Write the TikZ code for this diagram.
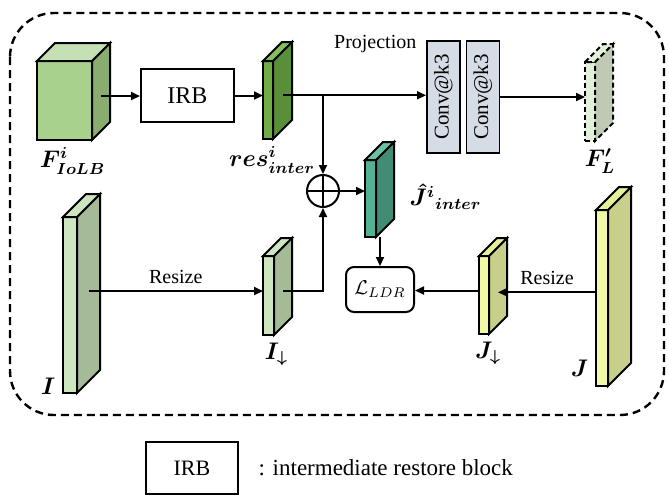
\documentclass[tikz,border=0pt]{standalone}
\usepackage{fontspec}
\setmainfont{Liberation Serif}
\usepackage{amsmath}
\usepackage{graphicx}
\usetikzlibrary{positioning,arrows.meta,calc}

\definecolor{leaffront}{HTML}{A9D18E}
\definecolor{leafside}{HTML}{88AD6F}
\definecolor{leaftop}{HTML}{C5E0B4}
\definecolor{grassfront}{HTML}{70AD47}
\definecolor{grassside}{HTML}{5A8F3A}
\definecolor{grasstop}{HTML}{86BE5E}
\definecolor{ghostfront}{HTML}{E2F0D9}
\definecolor{ghostside}{HTML}{BFCAB4}
\definecolor{tealfront}{HTML}{52B093}
\definecolor{tealside}{HTML}{418C74}
\definecolor{tealtop}{HTML}{6BC1A5}
\definecolor{mintfront}{HTML}{CDE6C0}
\definecolor{mintside}{HTML}{A5BA97}
\definecolor{lemonfront}{HTML}{F1F8A6}
\definecolor{lemonside}{HTML}{C8CF8A}
\definecolor{lemontop}{HTML}{E6EF9A}
\definecolor{convfill}{HTML}{D6DCE5}

% feature slab: name, x, y, width, height, depth, kind
\newcommand{\slab}[7]{%
  \node[slabface, #7 front, minimum width=#4*0.5pt, minimum height=#5*0.5pt,
        anchor=north west] (#1) at (#2,#3) {};
  \draw[slabedge, #7 side] (#1.north east) -- ++(#6,-#6) -- ++(0,#5) -- (#1.south east) -- cycle;
  \draw[slabedge, #7 top] (#1.north west) -- ++(#6,-#6) -- ++(#4,0) -- (#1.north east) -- cycle;
  \coordinate (#1c) at ($(#1.east)+(#6/2,-#6/4)$);
}

\begin{document}
\begin{tikzpicture}[
    x=0.5pt, y=-0.5pt,
    >={Triangle[length=4.5pt,width=4pt]},
    every path/.style={line width=1pt},
    slabface/.style={draw, line width=1pt, inner sep=0pt, outer sep=0pt},
    slabedge/.style={draw, line width=1pt},
    leaf front/.style={fill=leaffront}, leaf side/.style={fill=leafside}, leaf top/.style={fill=leaftop},
    grass front/.style={fill=grassfront}, grass side/.style={fill=grassside}, grass top/.style={fill=grasstop},
    ghost front/.style={fill=ghostfront, dash pattern=on 2.5pt off 1.5pt},
    ghost side/.style={fill=ghostside, dash pattern=on 2.5pt off 1.5pt},
    ghost top/.style={fill=ghostfront, dash pattern=on 2.5pt off 1.5pt},
    teal front/.style={fill=tealfront}, teal side/.style={fill=tealside}, teal top/.style={fill=tealtop},
    mint front/.style={fill=mintfront}, mint side/.style={fill=mintside}, mint top/.style={fill=mintfront},
    lemon front/.style={fill=lemonfront}, lemon side/.style={fill=lemonside}, lemon top/.style={fill=lemontop},
    block/.style={draw, line width=1pt, minimum width=46.5pt, minimum height=26.5pt, font=\large},
    conv/.style={draw, line width=0.8pt, fill=convfill, minimum width=16.5pt, minimum height=56pt,
                 inner sep=0pt, font=\fontsize{10.5}{11}\selectfont},
    sum/.style={circle, draw, line width=1pt, minimum size=16pt, inner sep=0pt},
    loss/.style={draw, line width=1pt, rounded corners=4pt, minimum width=34pt, minimum height=22.5pt},
    mlbl/.style={font=\large\boldmath},
    frame/.style={line width=1.2pt, dash pattern=on 4pt off 2.5pt, rounded corners=22pt}
]
\useasboundingbox (0,0) rectangle (669,495);

% --- frame ---
\draw[frame] (10,13) rectangle (664,415);

% --- top row ---
\slab{F}{37}{61}{55}{79}{18}{leaf}
\node[block, right=24pt of F, yshift=2.5pt] (irb) {IRB};
\slab{res}{263}{61}{10}{78}{19}{grass}
\node[conv, anchor=west] (conv1) at (426,97) {\rotatebox{90}{Conv@k3}};
\node[conv, right=2.5pt of conv1] (conv2) {\rotatebox{90}{Conv@k3}};
\node[anchor=east] (proj) at ([xshift=-1pt, yshift=-2pt]conv1.north west) {Projection};
\slab{FL}{585}{62}{10}{79}{18}{ghost}

\draw[->] (Fc) -- (Fc -| irb.west);
\draw[->] (irb.east) -- (irb.east -| res.west);
\draw[->] (resc) -- (resc -| conv1.west);
\draw[->] (conv2.east) -- (conv2.east -| FL.west);

\node[mlbl, below=0pt of F, xshift=4pt] (Flbl) {$F^{i}_{IoLB}$};
\node[mlbl, below=0pt of res, xshift=2pt] (reslbl) {$res^{i}_{inter}$};
\node[mlbl, below=0pt of FL, xshift=5pt] (FLlbl) {$F^{\prime}_{L}$};

% --- fusion ---
\node[sum] (add) at (323,191) {};
\draw (add.north) -- (add.south) (add.west) -- (add.east);
\slab{Jhat}{365}{160}{11}{77}{18}{teal}
\node[loss] (ldr) at (380,289.5) {$\mathcal{L}_{LDR}$};
\node[mlbl, right=13pt of Jhat, yshift=1pt] (Jhatlbl) {$\hat{J}^{i}{}_{inter}$};

\draw[->] (resc -| add) -- (add.north);
\draw[->] (add.east) -- (add.east -| Jhat.west);
\draw[->] (ldr.north |- Jhat.south) -- (ldr.north);

% --- bottom row ---
\slab{I}{63}{217}{14}{176}{23}{mint}
\slab{Idown}{263}{256}{11}{79}{18}{mint}
\slab{Jdown}{479}{256}{10}{78}{18}{lemon}
\slab{J}{596}{210}{12}{176}{23}{lemon}

\draw[->] (Ic |- Idownc) -- node[above] {Resize} (Idownc -| Idown.west);
\draw[->] (Idownc) -| (add.south);
\draw[->] (Jc -| J.west) -- node[above] {Resize} (Jc -| Jdownc);
\draw[->] (Jdownc -| Jdown.west) -- (Jdownc -| ldr.east);

\node[mlbl, below=0pt of Idown, xshift=4pt] (Idownlbl) {$I_{\downarrow}$};
\node[mlbl, below=0pt of Jdown, xshift=2pt] (Jdownlbl) {$J_{\downarrow}$};
\node[mlbl, anchor=east] (Ilbl) at ([yshift=3.5pt]I.south west) {$I$};
\node[mlbl, anchor=east] (Jlbl) at ([yshift=9pt]J.south west) {$J$};

% --- legend ---
\node[block, minimum width=46pt, minimum height=26pt, font=\fontsize{11}{13}\selectfont] (key) at (192,468) {IRB};
\node[right=6pt of key, font=\fontsize{11.5}{13}\selectfont] (keytxt) {: intermediate restore block};

\end{tikzpicture}
\end{document}
